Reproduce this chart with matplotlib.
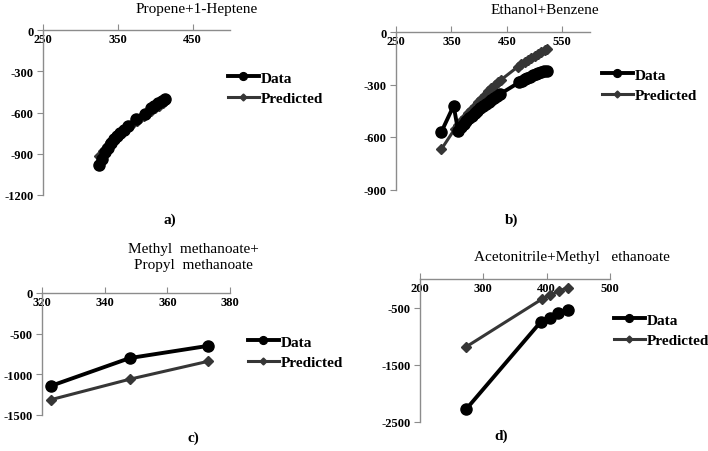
import matplotlib
matplotlib.use("Agg")
import matplotlib.pyplot as plt

plt.rcParams['font.family'] = ['Liberation Serif', 'DejaVu Serif']
plt.rcParams['axes.unicode_minus'] = False

W, H = 708, 452

# a) Propene+1-Heptene
a_data_x = [325, 329, 333, 337, 341, 345, 349, 353, 358, 363, 374, 386, 394, 399, 404, 409, 413]
a_data_y = [-985, -935, -890, -855, -825, -795, -770, -750, -725, -700, -648, -610, -570, -550, -530, -515, -500]
a_pred_x = [325, 330, 335, 340, 345, 350, 355, 360, 365, 370, 375, 380, 385, 390, 395, 400, 405, 410, 413]
a_pred_y = [-915, -878, -846, -817, -790, -765, -742, -720, -699, -679, -660, -641, -623, -605, -587, -569, -551, -533, -515]

# b) Ethanol+Benzene
b_data_x = [332, 354, 362, 367, 372, 377, 382, 387, 392, 397, 402, 407, 412, 417, 422, 427, 432, 437,
            472, 477, 482, 487, 492, 497, 502, 507, 512, 517, 522]
b_data_y = [-570, -421, -564, -545, -527, -510, -494, -478, -463, -449, -436, -423, -410, -398, -387, -376, -366, -356,
            -288, -279, -270, -262, -255, -248, -242, -236, -230, -225, -220]
b_pred_x = [332, 356, 362, 368, 374, 380, 386, 392, 398, 404, 410, 416, 422, 428, 434, 440,
            470, 476, 482, 488, 494, 500, 506, 512, 518, 522]
b_pred_y = [-669, -554, -530, -508, -486, -465, -444, -423, -402, -382, -360, -338, -318, -300, -285, -272,
            -198, -185, -172, -160, -148, -136, -124, -113, -103, -97]

# c) Methyl methanoate+Propyl methanoate
c_data_x = [323, 348, 373]
c_data_y = [-1140, -800, -650]
c_pred_x = [323, 348, 373]
c_pred_y = [-1310, -1060, -840]

# d) Acetonitrile+Methyl ethanoate
d_data_x = [273, 391, 405, 418, 433]
d_data_y = [-2275, -745, -690, -590, -545]
d_pred_x = [273, 392, 406, 420, 433]
d_pred_y = [-1185, -355, -280, -210, -150]

panels = [
    dict(box=(43, 31, 230, 196), xlim=(250, 500), xt=[250, 350, 450], ylim=(-1200, 0),
         yt=[0, -300, -600, -900, -1200], dx=a_data_x, dy=a_data_y, px=a_pred_x, py=a_pred_y,
         title="Propene+1-Heptene", tpos=(197, 9), leg=(228, 89), lab="a)", lpos=(170, 220)),
    dict(box=(396, 33, 590, 190.5), xlim=(250, 600), xt=[250, 350, 450, 550], ylim=(-900, 0),
         yt=[0, -300, -600, -900], dx=b_data_x, dy=b_data_y, px=b_pred_x, py=b_pred_y,
         title="Ethanol+Benzene", tpos=(545, 10), leg=(602, 86), lab="b)", lpos=(512, 220)),
    dict(box=(42, 294, 230, 416), xlim=(320, 380), xt=[320, 340, 360, 380], ylim=(-1500, 0),
         yt=[0, -500, -1000, -1500], dx=c_data_x, dy=c_data_y, px=c_pred_x, py=c_pred_y,
         title="Methyl  methanoate+\nPropyl  methanoate", tpos=(193, 257), leg=(248, 353), lab="c)", lpos=(193, 438)),
    dict(box=(420, 280, 610, 423), xlim=(200, 500), xt=[200, 300, 400, 500], ylim=(-2500, 0),
         yt=[-500, -1500, -2500], dx=d_data_x, dy=d_data_y, px=d_pred_x, py=d_pred_y,
         title="Acetonitrile+Methyl   ethanoate", tpos=(572, 258), leg=(614, 331), lab="d)", lpos=(501, 436)),
]

fig = plt.figure(figsize=(W / 100, H / 100), dpi=100)

for p in panels:
    x0, y0, x1, y1 = p['box']
    ax = fig.add_axes([x0 / W, 1 - y1 / H, (x1 - x0) / W, (y1 - y0) / H])
    ax.set_xlim(*p['xlim'])
    ax.set_ylim(*p['ylim'])
    ax.set_xticks(p['xt'])
    ax.set_yticks(p['yt'])
    ax.spines['bottom'].set_position(('data', 0))
    ax.spines['top'].set_visible(False)
    ax.spines['right'].set_visible(False)
    for s in ('bottom', 'left'):
        ax.spines[s].set_color('#8c8c8c')
        ax.spines[s].set_linewidth(1.0)
    ax.tick_params(axis='x', direction='in', length=4, color='#8c8c8c', pad=2)
    ax.tick_params(axis='y', direction='out', length=4, color='#8c8c8c', pad=3)
    for t in ax.get_xticklabels() + ax.get_yticklabels():
        t.set_fontweight('bold')
        t.set_fontsize(9)
    ax.patch.set_visible(False)

    l2, = ax.plot(p['px'], p['py'], color='#363636', lw=2.2, marker='D', ms=5, clip_on=False, zorder=3)
    l1, = ax.plot(p['dx'], p['dy'], color='black', lw=2.8, marker='o', ms=8, clip_on=False, zorder=4)

    ax.legend([l1, l2], ['Data', 'Predicted'], loc='center left',
              bbox_to_anchor=(p['leg'][0] / W, 1 - p['leg'][1] / H), bbox_transform=fig.transFigure,
              frameon=False, prop={'weight': 'bold', 'size': 11}, handlelength=2.0,
              handletextpad=0.15, labelspacing=0.45, borderpad=0, borderaxespad=0,
              markerscale=0.7)

    fig.text(p['tpos'][0] / W, 1 - p['tpos'][1] / H, p['title'], ha='center', va='center',
             fontsize=11, linespacing=1.3)
    fig.text(p['lpos'][0] / W, 1 - p['lpos'][1] / H, p['lab'], ha='center', va='center',
             fontsize=11, fontweight='bold')

fig.savefig("out.png", dpi=100)
